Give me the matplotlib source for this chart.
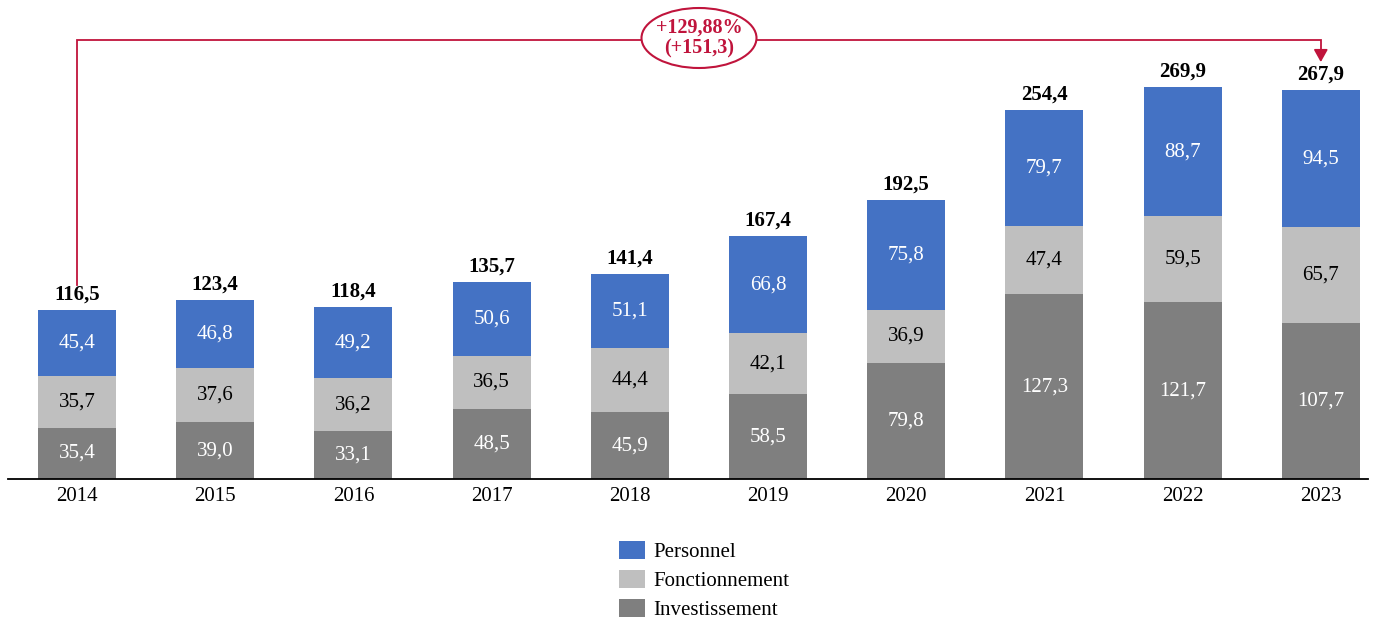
import matplotlib
matplotlib.use("Agg")
import matplotlib.pyplot as plt
from matplotlib.patches import Ellipse
import numpy as np

years = ["2014", "2015", "2016", "2017", "2018", "2019", "2020", "2021", "2022", "2023"]
investissement = [35.4, 39.0, 33.1, 48.5, 45.9, 58.5, 79.8, 127.3, 121.7, 107.7]
fonctionnement = [35.7, 37.6, 36.2, 36.5, 44.4, 42.1, 36.9, 47.4, 59.5, 65.7]
personnel = [45.4, 46.8, 49.2, 50.6, 51.1, 66.8, 75.8, 79.7, 88.7, 94.5]
totals = [116.5, 123.4, 118.4, 135.7, 141.4, 167.4, 192.5, 254.4, 269.9, 267.9]
growth_label = "+129,88%\n(+151,3)"

def fmt(v):
    return f"{v:.1f}".replace(".", ",")

plt.rcParams['font.family'] = ['Liberation Serif', 'DejaVu Serif']

W, H = 1381, 620
fig = plt.figure(figsize=(W / 100, H / 100), dpi=100)
ax = fig.add_axes([8 / W, (H - 479) / H, (1368 - 8) / W, 479 / H])

x = np.arange(len(years))
bw = 0.565
c_inv, c_fon, c_per = "#7F7F7F", "#BFBFBF", "#4472C4"
inv = np.array(investissement)
fon = np.array(fonctionnement)
per = np.array(personnel)

ax.bar(x, inv, bw, color=c_inv, label="Investissement")
ax.bar(x, fon, bw, bottom=inv, color=c_fon, label="Fonctionnement")
ax.bar(x, per, bw, bottom=inv + fon, color=c_per, label="Personnel")

fs = 15
for i in range(len(years)):
    ax.text(x[i], inv[i] / 2, fmt(inv[i]), ha="center", va="center", color="white", fontsize=fs)
    ax.text(x[i], inv[i] + fon[i] / 2, fmt(fon[i]), ha="center", va="center", color="black", fontsize=fs)
    ax.text(x[i], inv[i] + fon[i] + per[i] / 2, fmt(per[i]), ha="center", va="center", color="white", fontsize=fs)
    top = inv[i] + fon[i] + per[i]
    ax.annotate(fmt(totals[i]), (x[i], top), xytext=(0, 4), textcoords="offset points",
                ha="center", va="bottom", fontsize=fs, fontweight="bold", color="black")

ax.set_xlim((8 - 77) / 138.2, (1368 - 77) / 138.2)
ax.set_ylim(0, 479 / 1.4506)
ax.set_xticks(x)
ax.set_xticklabels(years, fontsize=fs)
ax.tick_params(axis="x", length=0, pad=6)
ax.set_yticks([])
for s in ["top", "left", "right"]:
    ax.spines[s].set_visible(False)
ax.spines["bottom"].set_linewidth(1.3)
ax.spines["bottom"].set_color("black")

# growth arrow
red = "#C0143C"
y_line = 302.5
start_top = totals[0] + 17
end_top = totals[-1] + 19.5
ax.plot([x[0], x[0], x[-1], x[-1]], [start_top, y_line, y_line, end_top + 6],
        color=red, lw=1.3, solid_joinstyle="miter", clip_on=False)
ax.annotate("", xy=(x[-1], end_top), xytext=(x[-1], end_top + 7.5),
            arrowprops=dict(arrowstyle="-|>,head_length=0.75,head_width=0.42", color=red, lw=1.3,
                            shrinkA=0, shrinkB=0))
xc = (699 - 77) / 138.2
yc = (479 - 38) / 1.4506
ell = Ellipse((xc, yc), 115 / 138.2, 60 / 1.4506, facecolor="white",
              edgecolor=red, lw=1.5, zorder=5, clip_on=False)
ax.add_patch(ell)
ax.text(xc, yc, growth_label, ha="center", va="center", color=red,
        fontsize=14.5, fontweight="bold", zorder=6, linespacing=1.08)

handles, labels = ax.get_legend_handles_labels()
order = [2, 1, 0]
fig.legend([handles[i] for i in order], [labels[i] for i in order],
           loc="upper left", bbox_to_anchor=(619 / W, 1 - 541 / H), frameon=False,
           fontsize=fs, handlelength=1.25, handleheight=0.95, handletextpad=0.4,
           labelspacing=0.38, borderpad=0, borderaxespad=0)

fig.savefig("out.png", dpi=100)
